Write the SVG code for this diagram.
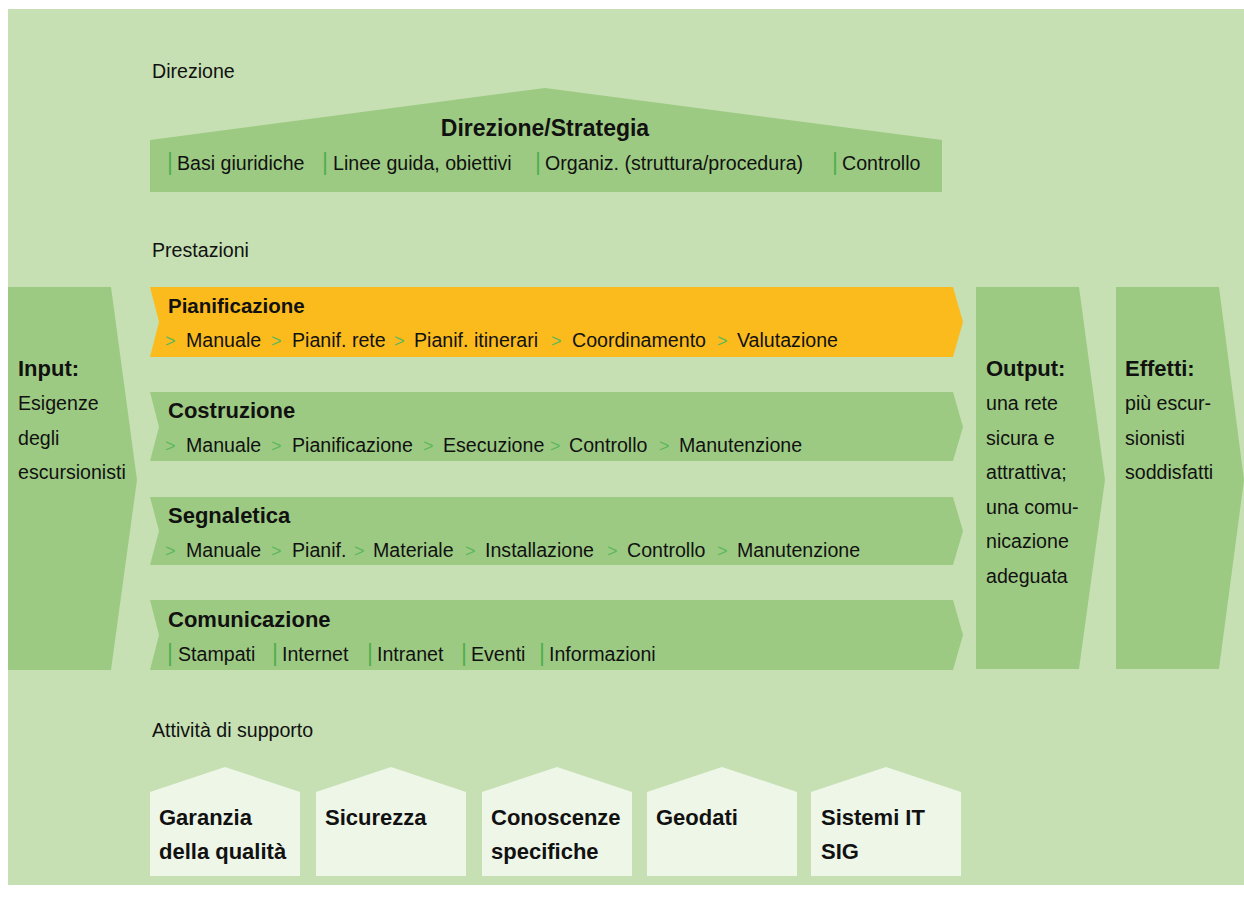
<svg xmlns="http://www.w3.org/2000/svg" width="1244" height="904" viewBox="0 0 1244 904">
<style>
.bg{fill:#c6e0b3}
.sh{fill:#9dca83}
.or{fill:#fbbb1c}
.sup{fill:#eef6e8}
text{font-family:"Liberation Sans",Arial,sans-serif;fill:#111}
.t{font-size:19.6px}
.b{font-size:22px;font-weight:700}
.g{fill:#5cb85c;font-size:18px}
.bar{fill:#4fae4f;font-size:23px}
</style>
<rect class="bg" x="8" y="9" width="1236" height="876"/>
<text class="t" x="152" y="78">Direzione</text>
<text class="t" x="152" y="257">Prestazioni</text>
<text class="t" x="152" y="737">Attività di supporto</text>

<g id="direzione">
<polygon class="sh" points="150,140 545,88 942,140 942,192 150,192"/>
<text class="b" x="545" y="136" text-anchor="middle" style="font-size:23px">Direzione/Strategia</text>
<text class="t" y="170"><tspan class="bar" x="167">|</tspan><tspan x="177">Basi giuridiche</tspan><tspan class="bar" x="322">|</tspan><tspan x="333">Linee guida, obiettivi</tspan><tspan class="bar" x="535">|</tspan><tspan x="545">Organiz. (struttura/procedura)</tspan><tspan class="bar" x="832">|</tspan><tspan x="842">Controllo</tspan></text>
</g>

<g id="input">
<polygon class="sh" points="8,287 111,287 137,480 111,670 8,670"/>
<text class="b" x="18" y="376">Input:</text>
<text class="t" x="18" y="410">Esigenze</text>
<text class="t" x="18" y="445">degli</text>
<text class="t" x="18" y="479">escursionisti</text>
</g>

<g id="pianificazione">
<polygon class="or" points="150,287 953,287 963,322 953,357 150,357 159,322"/>
<text class="b" x="168" y="313" style="font-size:20.5px">Pianificazione</text>
<text class="t" y="347"><tspan class="g" x="165">&gt;</tspan><tspan x="186">Manuale</tspan><tspan class="g" x="271">&gt;</tspan><tspan x="292">Pianif. rete</tspan><tspan class="g" x="394">&gt;</tspan><tspan x="414">Pianif. itinerari</tspan><tspan class="g" x="551">&gt;</tspan><tspan x="572">Coordinamento</tspan><tspan class="g" x="717">&gt;</tspan><tspan x="737">Valutazione</tspan></text>
</g>

<g id="costruzione">
<polygon class="sh" points="150,392 953,392 963,427 953,461 150,461 159,427"/>
<text class="b" x="168" y="418">Costruzione</text>
<text class="t" y="452"><tspan class="g" x="165">&gt;</tspan><tspan x="186">Manuale</tspan><tspan class="g" x="271">&gt;</tspan><tspan x="292">Pianificazione</tspan><tspan class="g" x="423">&gt;</tspan><tspan x="443">Esecuzione</tspan><tspan class="g" x="550">&gt;</tspan><tspan x="569">Controllo</tspan><tspan class="g" x="659">&gt;</tspan><tspan x="679">Manutenzione</tspan></text>
</g>

<g id="segnaletica">
<polygon class="sh" points="150,497 953,497 963,531 953,565 150,565 159,531"/>
<text class="b" x="168" y="523">Segnaletica</text>
<text class="t" y="557"><tspan class="g" x="165">&gt;</tspan><tspan x="186">Manuale</tspan><tspan class="g" x="271">&gt;</tspan><tspan x="292">Pianif.</tspan><tspan class="g" x="354">&gt;</tspan><tspan x="373">Materiale</tspan><tspan class="g" x="465">&gt;</tspan><tspan x="485">Installazione</tspan><tspan class="g" x="607">&gt;</tspan><tspan x="627">Controllo</tspan><tspan class="g" x="717">&gt;</tspan><tspan x="737">Manutenzione</tspan></text>
</g>

<g id="comunicazione">
<polygon class="sh" points="150,600 953,600 963,635 953,670 150,670 159,635"/>
<text class="b" x="168" y="627">Comunicazione</text>
<text class="t" y="661"><tspan class="bar" x="167">|</tspan><tspan x="178">Stampati</tspan><tspan class="bar" x="272">|</tspan><tspan x="282">Internet</tspan><tspan class="bar" x="367">|</tspan><tspan x="377">Intranet</tspan><tspan class="bar" x="461">|</tspan><tspan x="471">Eventi</tspan><tspan class="bar" x="539">|</tspan><tspan x="549">Informazioni</tspan></text>
</g>

<g id="output">
<polygon class="sh" points="976,287 1079,287 1105,480 1079,669 976,669"/>
<text class="b" x="986" y="376">Output:</text>
<text class="t" x="986" y="410">una rete</text>
<text class="t" x="986" y="445">sicura e</text>
<text class="t" x="986" y="479">attrattiva;</text>
<text class="t" x="986" y="514">una comu-</text>
<text class="t" x="986" y="548">nicazione</text>
<text class="t" x="986" y="583">adeguata</text>
</g>

<g id="effetti">
<polygon class="sh" points="1116,287 1219,287 1244,480 1219,669 1116,669"/>
<text class="b" x="1125" y="376">Effetti:</text>
<text class="t" x="1125" y="410">più escur-</text>
<text class="t" x="1125" y="445">sionisti</text>
<text class="t" x="1125" y="479">soddisfatti</text>
</g>

<g id="garanzia">
<polygon class="sup" points="150,792 225,767 300,792 300,876 150,876"/>
<text class="b" x="159" y="825">Garanzia</text>
<text class="b" x="159" y="859">della qualità</text>
</g>
<g id="sicurezza">
<polygon class="sup" points="316,792 391,767 466,792 466,876 316,876"/>
<text class="b" x="325" y="825">Sicurezza</text>
</g>
<g id="conoscenze">
<polygon class="sup" points="482,792 557,767 632,792 632,876 482,876"/>
<text class="b" x="491" y="825">Conoscenze</text>
<text class="b" x="491" y="859">specifiche</text>
</g>
<g id="geodati">
<polygon class="sup" points="647,792 722,767 797,792 797,876 647,876"/>
<text class="b" x="656" y="825">Geodati</text>
</g>
<g id="sistemi">
<polygon class="sup" points="811,792 886,767 961,792 961,876 811,876"/>
<text class="b" x="821" y="825">Sistemi IT</text>
<text class="b" x="821" y="859">SIG</text>
</g>
<g id="connectors"></g>
</svg>
